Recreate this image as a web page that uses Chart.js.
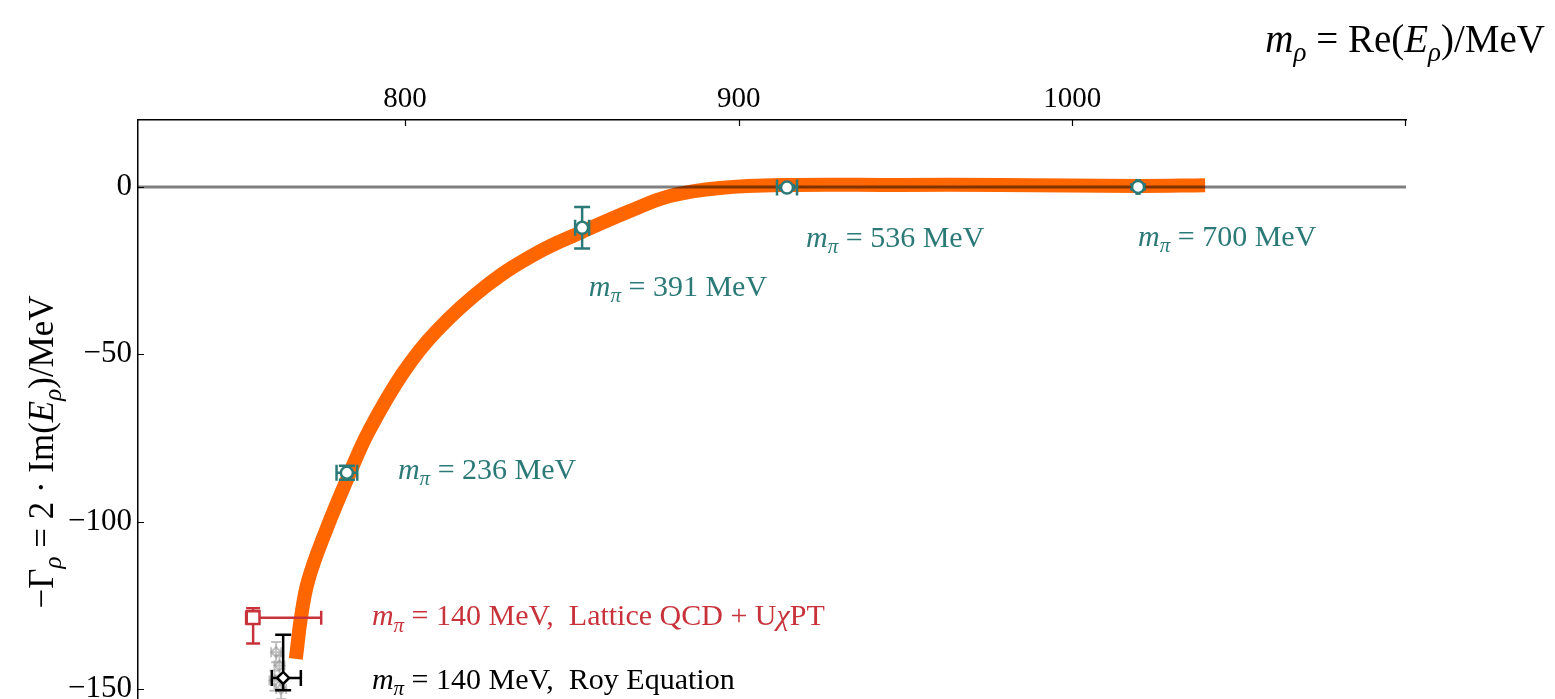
<!DOCTYPE html>
<html>
<head>
<meta charset="utf-8">
<script src="https://cdn.jsdelivr.net/npm/chart.js@4.4.1/dist/chart.umd.min.js"></script>
<style>
  html, body { margin: 0; padding: 0; background: #fff; }
</style>
</head>
<body>
<canvas id="rho" width="1555" height="699"></canvas>
<script>
"use strict";

const xTicks = [800, 900, 1000];
const yTicks = [-150, -100, -50, 0];

// lattice points at heavier pion masses
const pionMasses = [236, 391, 536, 700];
const latticeRe = [782.6, 853.1, 914.5, 1019.7];
const latticeIm = [-85.4, -12.2, -0.2, 0.0];
const latticeReErr = [3.1, 2.1, 3.0, 0.4];
const latticeImErr = [2.1, 6.2, 0.6, 0.7];

// physical point, lattice QCD + UchiPT
const physPionMass = 140;
const uchptRe = [754.5];
const uchptIm = [-128.7];
const uchptReLo = [2.1], uchptReHi = [20.4];
const uchptImLo = [7.7], uchptImHi = [2.8];

// physical point, Roy equation
const royRe = [763.5];
const royIm = [-146.7];
const royReLo = [3.4], royReHi = [5.3];
const royImLo = [3.7], royImHi = [12.9];
const roySampleRe = [761.4, 762.4, 760.9, 762.9];
const roySampleIm = [-139.0, -143.0, -147.5, -150.0];

// chiral extrapolation band (centre line)
const bandRe = [767.3, 767.6, 768.7, 771.0, 776.3, 783.5, 789.2, 799.4, 809.6, 824.6, 839.6, 853.1, 867.4, 879.4, 894.4, 914.5, 948.4, 978.3, 1019.7, 1039.8];
const bandIm = [-141.0, -138.5, -129.6, -117.6, -102.7, -85.4, -72.9, -55.6, -42.9, -29.4, -19.7, -13.4, -7.2, -2.7, -0.3, 0.6, 0.6, 0.6, 0.3, 0.5];

const TEAL = '#2b7a77';
const RED = '#c8333b';
const ORANGE = 'rgb(255,102,0)';
const FONT = '"Liberation Serif", "DejaVu Serif", serif';

const pts = (xs, ys) => xs.map((x, i) => ({ x: x, y: ys[i] }));

function drawRich(ctx, parts, x, y, size, color, align) {
  const fontFor = (k) => (k === 'r' ? '' : 'italic ') + (k === 's' ? Math.round(size * 0.7) : size) + 'px ' + FONT;
  let total = 0;
  parts.forEach(([t, k]) => { ctx.font = fontFor(k); total += ctx.measureText(t).width; });
  let cx = align === 'right' ? x - total : (align === 'center' ? x - total / 2 : x);
  ctx.fillStyle = color;
  ctx.textAlign = 'left';
  ctx.textBaseline = 'alphabetic';
  parts.forEach(([t, k]) => {
    ctx.font = fontFor(k);
    ctx.fillText(t, cx, k === 's' ? y + size * 0.22 : y);
    cx += ctx.measureText(t).width;
  });
}

// error bars, drawn just before the markers of their dataset
const errorBars = {
  id: 'errorBars',
  beforeDatasetDraw(chart, args) {
    const ds = chart.data.datasets[args.index];
    if (!ds.errors) return;
    const ctx = chart.ctx, xs = chart.scales.x, ys = chart.scales.y;
    const e = ds.errors, cap = ds.capSize;
    ctx.save();
    ctx.strokeStyle = ds.borderColor;
    ctx.lineWidth = ds.errWidth;
    ds.data.forEach((p, i) => {
      const px = xs.getPixelForValue(p.x), py = ys.getPixelForValue(p.y);
      const x0 = xs.getPixelForValue(p.x - e.xLo[i]), x1 = xs.getPixelForValue(p.x + e.xHi[i]);
      const y0 = ys.getPixelForValue(p.y - e.yLo[i]), y1 = ys.getPixelForValue(p.y + e.yHi[i]);
      ctx.beginPath();
      ctx.moveTo(x0, py); ctx.lineTo(x1, py);
      ctx.moveTo(px, y0); ctx.lineTo(px, y1);
      ctx.moveTo(x0, py - cap); ctx.lineTo(x0, py + cap);
      ctx.moveTo(x1, py - cap); ctx.lineTo(x1, py + cap);
      ctx.moveTo(px - cap, y0); ctx.lineTo(px + cap, y0);
      ctx.moveTo(px - cap, y1); ctx.lineTo(px + cap, y1);
      ctx.stroke();
    });
    ctx.restore();
  }
};

// inward ticks, axis titles and point labels
const decorations = {
  id: 'decorations',
  afterDraw(chart) {
    const ctx = chart.ctx, xs = chart.scales.x, ys = chart.scales.y;
    const area = chart.chartArea;
    ctx.save();
    ctx.strokeStyle = '#000';
    ctx.lineWidth = 1.2;
    ctx.beginPath();
    xTicks.forEach(v => {
      const px = Math.round(xs.getPixelForValue(v)) + 0.5;
      ctx.moveTo(px, area.top); ctx.lineTo(px, area.top + 6);
    });
    ctx.moveTo(area.right - 0.5, area.top); ctx.lineTo(area.right - 0.5, area.top + 6);
    yTicks.forEach(v => {
      const py = Math.round(ys.getPixelForValue(v)) + 0.5;
      ctx.moveTo(area.left, py); ctx.lineTo(area.left + 6, py);
    });
    ctx.stroke();

    drawRich(ctx, [['m', 'i'], ['ρ', 's'], [' = Re(', 'r'], ['E', 'i'], ['ρ', 's'], [')/MeV', 'r']], 1545, 52, 39, '#000', 'right');

    ctx.save();
    ctx.translate(53, 452);
    ctx.rotate(-Math.PI / 2);
    drawRich(ctx, [['−Γ', 'r'], ['ρ', 's'], [' = 2 · Im(', 'r'], ['E', 'i'], ['ρ', 's'], [')/MeV', 'r']], 0, 0, 35, '#000', 'center');
    ctx.restore();

    const tealPos = [[797.9, -87.2], [855.1, -32.5], [920.2, -17.9], [1019.7, -17.6]];
    pionMasses.forEach((m, i) => {
      drawRich(ctx, [['m', 'i'], ['π', 's'], [' = ' + m + ' MeV', 'r']],
        xs.getPixelForValue(tealPos[i][0]), ys.getPixelForValue(tealPos[i][1]), 30, TEAL, 'left');
    });
    drawRich(ctx, [['m', 'i'], ['π', 's'], [' = ' + physPionMass + ' MeV,  Lattice QCD + U', 'r'], ['χ', 'i'], ['PT', 'r']],
      xs.getPixelForValue(790.1), ys.getPixelForValue(-131.0), 30, RED, 'left');
    drawRich(ctx, [['m', 'i'], ['π', 's'], [' = ' + physPionMass + ' MeV,  Roy Equation', 'r']],
      xs.getPixelForValue(790.1), ys.getPixelForValue(-149.9), 30, '#000', 'left');
    ctx.restore();
  }
};

new Chart(document.getElementById('rho'), {
  type: 'scatter',
  data: {
    datasets: [
      {
        data: pts(latticeRe, latticeIm), order: 0,
        pointStyle: 'circle', pointRadius: 6, borderWidth: 2.5,
        borderColor: TEAL, backgroundColor: '#fff',
        errors: { xLo: latticeReErr, xHi: latticeReErr, yLo: latticeImErr, yHi: latticeImErr },
        capSize: 8, errWidth: 2.5
      },
      {
        data: pts(uchptRe, uchptIm), order: 0,
        pointStyle: 'rect', pointRadius: 9, borderWidth: 2.5,
        borderColor: RED, backgroundColor: '#fff',
        errors: { xLo: uchptReLo, xHi: uchptReHi, yLo: uchptImLo, yHi: uchptImHi },
        capSize: 7, errWidth: 2.5
      },
      {
        data: pts(royRe, royIm), order: 0,
        pointStyle: 'rectRot', pointRadius: 6, borderWidth: 2.5,
        borderColor: '#000', backgroundColor: '#fff',
        errors: { xLo: royReLo, xHi: royReHi, yLo: royImLo, yHi: royImHi },
        capSize: 8, errWidth: 2.5
      },
      {
        data: pts(roySampleRe, roySampleIm), order: 1,
        pointStyle: 'rectRot', pointRadius: 5, borderWidth: 2,
        borderColor: 'rgba(150,150,150,0.6)', backgroundColor: 'rgba(255,255,255,0)',
        errors: { xLo: [1.5, 1.5, 1.5, 1.5], xHi: [1.5, 1.5, 1.5, 1.5], yLo: [3, 3, 3, 3], yHi: [3, 3, 3, 3] },
        capSize: 5, errWidth: 2
      },
      {
        type: 'line', data: [{ x: 720, y: 0 }, { x: 1100, y: 0 }], order: 2,
        borderColor: 'rgba(0,0,0,0.5)', borderWidth: 3, pointRadius: 0
      },
      {
        type: 'line', data: pts(bandRe, bandIm), order: 4,
        borderColor: ORANGE, borderWidth: 14, pointRadius: 0, tension: 0.4,
        fill: false, borderCapStyle: 'butt', borderJoinStyle: 'round'
      }
    ]
  },
  options: {
    responsive: false,
    animation: false,
    devicePixelRatio: 1,
    layout: { autoPadding: false, padding: { left: 0, right: 149, top: 0, bottom: 0 } },
    plugins: { legend: { display: false }, tooltip: { enabled: false } },
    scales: {
      x: {
        type: 'linear', position: 'top', min: 720, max: 1100,
        grid: { display: false, drawTicks: false },
        border: { display: true, color: '#000', width: 1.5 },
        afterBuildTicks: s => { s.ticks = xTicks.map(v => ({ value: v })); },
        afterFit: s => { s.height = 120; s.paddingLeft = 0; s.paddingRight = 0; },
        ticks: {
          color: '#000', padding: 3, maxRotation: 0, font: { family: FONT, size: 29 },
          callback: v => String(v)
        }
      },
      y: {
        type: 'linear', position: 'left', min: -153, max: 20,
        grid: { display: false, drawTicks: false },
        border: { display: true, color: '#000', width: 1.5 },
        afterBuildTicks: s => { s.ticks = yTicks.map(v => ({ value: v })); },
        afterFit: s => { s.width = 138; s.paddingTop = 0; s.paddingBottom = 0; },
        ticks: {
          color: '#000', padding: 6, font: { family: FONT, size: 31 },
          callback: v => String(v).replace('-', '−')
        }
      }
    }
  },
  plugins: [errorBars, decorations]
});
</script>
</body>
</html>
